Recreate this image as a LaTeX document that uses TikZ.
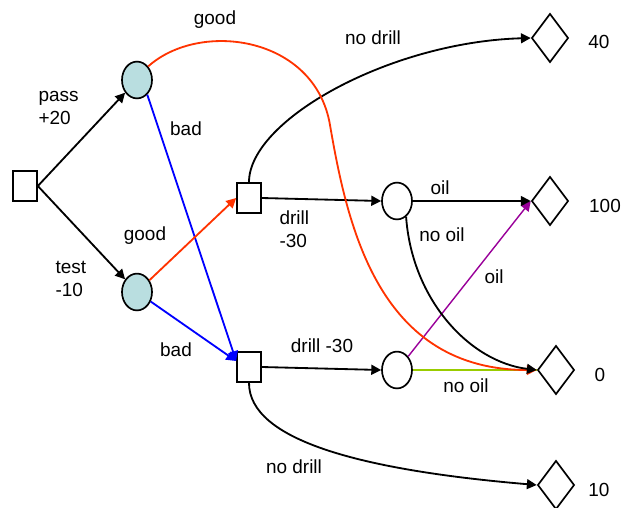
\documentclass[tikz,border=0pt]{standalone}
\usepackage{fontspec}
\setmainfont{Liberation Sans}
\usetikzlibrary{arrows.meta, positioning, shapes.geometric}
\definecolor{chanceFill}{RGB}{185,222,224}
\definecolor{goodRed}{RGB}{255,51,0}
\definecolor{badBlue}{RGB}{0,0,255}
\definecolor{oilPurple}{RGB}{153,0,153}
\definecolor{dryGreen}{RGB}{153,204,0}

\begin{document}
\begin{tikzpicture}[x=0.025cm, y=-0.025cm, >={Triangle[length=7pt, width=7pt]},
    font=\fontsize{13.5}{16.5}\selectfont, line width=1.3pt,
    decision/.style={draw, rectangle, minimum width=0.6cm, minimum height=0.75cm, inner sep=0pt, line width=1.2pt},
    chance/.style={draw, ellipse, minimum width=0.75cm, minimum height=0.92cm, inner sep=0pt, line width=1.2pt},
    payoff/.style={draw, diamond, minimum width=0.92cm, minimum height=1.22cm, inner sep=0pt, line width=1.2pt}]
    \useasboundingbox (0,0) rectangle (621,508);

    % nodes
    \node[decision] (root) at (25,186) {};
    \node[chance, fill=chanceFill] (pass) at (137,80) {};
    \node[chance, fill=chanceFill] (test) at (137,292) {};
    \node[decision] (dUp) at (249,198) {};
    \node[decision] (dLow) at (249,367) {};
    \node[chance] (cUp) at (397,201) {};
    \node[chance] (cLow) at (397,370) {};
    \node[payoff] (v40) at (550,38) {};
    \node[payoff] (v100) at (550,201) {};
    \node[payoff] (v0) at (556,370) {};
    \node[payoff] (v10) at (556,485) {};

    % test or not
    \draw[->] (root.east) -- (pass);
    \draw[->] (root.east) -- (test);

    % survey result
    \draw[->, badBlue] (pass.-55) -- (dLow.155);
    \draw[->, goodRed] (test) -- (dUp.west);
    \draw[->, badBlue] (test) -- (dLow.155);

    % drill or not
    \draw[->] (dUp.east) -- (cUp.west);
    \draw[->] (dLow.east) -- (cLow.west);
    \draw[->] (dUp.north) .. controls (249,120) and (390,42) .. (v40.west);
    \draw[->] (dLow.south) .. controls (249,440) and (360,470) .. (v10.west);

    % oil or not
    \draw[dryGreen, line width=1.6pt] (cLow.east) -- (v0.west);
    \draw[->, oilPurple, line width=1pt] (cLow.north east) -- (v100.west);
    \draw[->, goodRed] (pass.north east) .. controls (200,20) and (315,36) .. (330,125)
        .. controls (348,230) and (380,370) .. (v0.west);
    \draw[->] (cUp.east) -- (v100.west);
    \draw[->] (cUp.-60) .. controls (412,300) and (470,362) .. (v0.west);

    % labels
    \node at (215,20) {good};
    \node[align=left, anchor=west] at (33,108) {pass\\+20};
    \node at (186,129) {bad};
    \node at (145,236) {good};
    \node[align=left, anchor=west] at (50,279) {test\\-10};
    \node at (176,350) {bad};
    \node[align=left, anchor=west] at (274,229) {drill\\-30};
    \node at (373,38) {no drill};
    \node at (440,188) {oil};
    \node at (442,235) {no oil};
    \node at (494,277) {oil};
    \node at (322,346) {drill -30};
    \node at (466,386) {no oil};
    \node at (294,467) {no drill};
    \node at (599,42) {40};
    \node at (605,206) {100};
    \node at (600,375) {0};
    \node at (599,490) {10};
\end{tikzpicture}
\end{document}
